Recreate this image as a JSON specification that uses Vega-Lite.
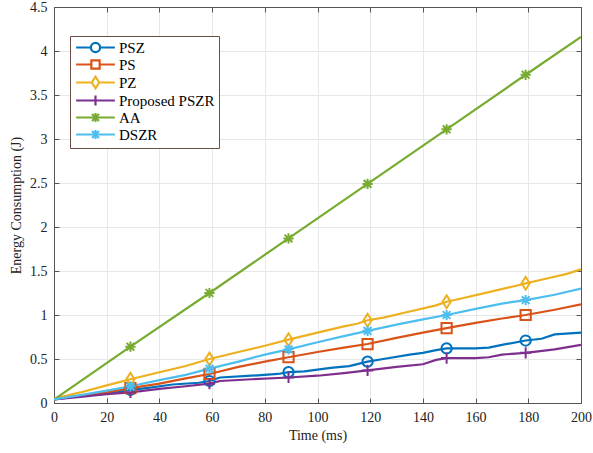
{
  "$schema": "https://vega.github.io/schema/vega-lite/v6.json",
  "width": 527,
  "height": 396,
  "autosize": {"type": "none"},
  "padding": {"left": 54, "top": 7, "right": 12, "bottom": 50},
  "config": {
    "view": {"stroke": null},
    "font": "Liberation Serif",
    "point": {"filled": false, "strokeWidth": 2, "size": 105, "opacity": 1},
    "axis": {
      "labelFont": "Liberation Serif",
      "titleFont": "Liberation Serif",
      "labelFontSize": 14,
      "titleFontSize": 14,
      "titleFontWeight": "normal",
      "labelColor": "#222",
      "titleColor": "#222",
      "domainColor": "#555",
      "tickColor": "#555",
      "gridColor": "#e6e8ea",
      "gridOpacity": 1
    }
  },
  "datasets": {
    "lines": [
      {"series": "PSZ", "t": 0, "e": 0.04}, {"series": "PSZ", "t": 10, "e": 0.08}, {"series": "PSZ", "t": 20, "e": 0.11}, {"series": "PSZ", "t": 29, "e": 0.15}, {"series": "PSZ", "t": 35, "e": 0.17}, {"series": "PSZ", "t": 45, "e": 0.21}, {"series": "PSZ", "t": 55, "e": 0.23}, {"series": "PSZ", "t": 59, "e": 0.25}, {"series": "PSZ", "t": 63, "e": 0.29}, {"series": "PSZ", "t": 75, "e": 0.31}, {"series": "PSZ", "t": 85, "e": 0.33}, {"series": "PSZ", "t": 89, "e": 0.35}, {"series": "PSZ", "t": 95, "e": 0.36}, {"series": "PSZ", "t": 105, "e": 0.4}, {"series": "PSZ", "t": 112, "e": 0.42}, {"series": "PSZ", "t": 119, "e": 0.47}, {"series": "PSZ", "t": 125, "e": 0.5}, {"series": "PSZ", "t": 135, "e": 0.55}, {"series": "PSZ", "t": 140, "e": 0.57}, {"series": "PSZ", "t": 145, "e": 0.6}, {"series": "PSZ", "t": 149, "e": 0.62}, {"series": "PSZ", "t": 160, "e": 0.62}, {"series": "PSZ", "t": 165, "e": 0.63}, {"series": "PSZ", "t": 170, "e": 0.66}, {"series": "PSZ", "t": 179, "e": 0.71}, {"series": "PSZ", "t": 185, "e": 0.73}, {"series": "PSZ", "t": 190, "e": 0.78}, {"series": "PSZ", "t": 200, "e": 0.8},
      {"series": "PS", "t": 0, "e": 0.04}, {"series": "PS", "t": 10, "e": 0.08}, {"series": "PS", "t": 20, "e": 0.12}, {"series": "PS", "t": 29, "e": 0.17}, {"series": "PS", "t": 40, "e": 0.22}, {"series": "PS", "t": 50, "e": 0.28}, {"series": "PS", "t": 59, "e": 0.33}, {"series": "PS", "t": 70, "e": 0.41}, {"series": "PS", "t": 80, "e": 0.47}, {"series": "PS", "t": 89, "e": 0.52}, {"series": "PS", "t": 100, "e": 0.58}, {"series": "PS", "t": 110, "e": 0.63}, {"series": "PS", "t": 119, "e": 0.67}, {"series": "PS", "t": 130, "e": 0.74}, {"series": "PS", "t": 140, "e": 0.8}, {"series": "PS", "t": 149, "e": 0.85}, {"series": "PS", "t": 160, "e": 0.91}, {"series": "PS", "t": 170, "e": 0.96}, {"series": "PS", "t": 179, "e": 1.0}, {"series": "PS", "t": 190, "e": 1.06}, {"series": "PS", "t": 200, "e": 1.12},
      {"series": "PZ", "t": 0, "e": 0.05}, {"series": "PZ", "t": 10, "e": 0.12}, {"series": "PZ", "t": 20, "e": 0.2}, {"series": "PZ", "t": 29, "e": 0.27}, {"series": "PZ", "t": 40, "e": 0.35}, {"series": "PZ", "t": 50, "e": 0.42}, {"series": "PZ", "t": 59, "e": 0.5}, {"series": "PZ", "t": 70, "e": 0.58}, {"series": "PZ", "t": 80, "e": 0.65}, {"series": "PZ", "t": 89, "e": 0.72}, {"series": "PZ", "t": 100, "e": 0.8}, {"series": "PZ", "t": 110, "e": 0.87}, {"series": "PZ", "t": 115, "e": 0.9}, {"series": "PZ", "t": 119, "e": 0.94}, {"series": "PZ", "t": 125, "e": 0.97}, {"series": "PZ", "t": 135, "e": 1.04}, {"series": "PZ", "t": 145, "e": 1.11}, {"series": "PZ", "t": 149, "e": 1.15}, {"series": "PZ", "t": 155, "e": 1.19}, {"series": "PZ", "t": 165, "e": 1.26}, {"series": "PZ", "t": 175, "e": 1.33}, {"series": "PZ", "t": 179, "e": 1.36}, {"series": "PZ", "t": 185, "e": 1.4}, {"series": "PZ", "t": 195, "e": 1.47}, {"series": "PZ", "t": 200, "e": 1.52},
      {"series": "Proposed PSZR", "t": 0, "e": 0.04}, {"series": "Proposed PSZR", "t": 10, "e": 0.07}, {"series": "Proposed PSZR", "t": 20, "e": 0.1}, {"series": "Proposed PSZR", "t": 29, "e": 0.12}, {"series": "Proposed PSZR", "t": 40, "e": 0.16}, {"series": "Proposed PSZR", "t": 50, "e": 0.19}, {"series": "Proposed PSZR", "t": 59, "e": 0.22}, {"series": "Proposed PSZR", "t": 63, "e": 0.25}, {"series": "Proposed PSZR", "t": 75, "e": 0.27}, {"series": "Proposed PSZR", "t": 89, "e": 0.29}, {"series": "Proposed PSZR", "t": 100, "e": 0.31}, {"series": "Proposed PSZR", "t": 110, "e": 0.34}, {"series": "Proposed PSZR", "t": 119, "e": 0.37}, {"series": "Proposed PSZR", "t": 130, "e": 0.41}, {"series": "Proposed PSZR", "t": 140, "e": 0.44}, {"series": "Proposed PSZR", "t": 145, "e": 0.49}, {"series": "Proposed PSZR", "t": 149, "e": 0.51}, {"series": "Proposed PSZR", "t": 160, "e": 0.51}, {"series": "Proposed PSZR", "t": 165, "e": 0.52}, {"series": "Proposed PSZR", "t": 170, "e": 0.55}, {"series": "Proposed PSZR", "t": 179, "e": 0.57}, {"series": "Proposed PSZR", "t": 190, "e": 0.61}, {"series": "Proposed PSZR", "t": 200, "e": 0.66},
      {"series": "AA", "t": 0, "e": 0.04}, {"series": "AA", "t": 29, "e": 0.64}, {"series": "AA", "t": 59, "e": 1.25}, {"series": "AA", "t": 89, "e": 1.87}, {"series": "AA", "t": 119, "e": 2.49}, {"series": "AA", "t": 149, "e": 3.11}, {"series": "AA", "t": 179, "e": 3.73}, {"series": "AA", "t": 200, "e": 4.16},
      {"series": "DSZR", "t": 0, "e": 0.04}, {"series": "DSZR", "t": 10, "e": 0.09}, {"series": "DSZR", "t": 20, "e": 0.14}, {"series": "DSZR", "t": 29, "e": 0.19}, {"series": "DSZR", "t": 40, "e": 0.26}, {"series": "DSZR", "t": 50, "e": 0.32}, {"series": "DSZR", "t": 59, "e": 0.39}, {"series": "DSZR", "t": 70, "e": 0.47}, {"series": "DSZR", "t": 80, "e": 0.55}, {"series": "DSZR", "t": 89, "e": 0.61}, {"series": "DSZR", "t": 100, "e": 0.69}, {"series": "DSZR", "t": 110, "e": 0.76}, {"series": "DSZR", "t": 119, "e": 0.82}, {"series": "DSZR", "t": 130, "e": 0.89}, {"series": "DSZR", "t": 140, "e": 0.95}, {"series": "DSZR", "t": 149, "e": 1.0}, {"series": "DSZR", "t": 160, "e": 1.07}, {"series": "DSZR", "t": 170, "e": 1.13}, {"series": "DSZR", "t": 179, "e": 1.17}, {"series": "DSZR", "t": 190, "e": 1.23}, {"series": "DSZR", "t": 200, "e": 1.3}
    ],
    "markers": [
      {"name": "PSZ", "t": 29, "e": 0.15}, {"name": "PSZ", "t": 59, "e": 0.25}, {"name": "PSZ", "t": 89, "e": 0.35}, {"name": "PSZ", "t": 119, "e": 0.47}, {"name": "PSZ", "t": 149, "e": 0.62}, {"name": "PSZ", "t": 179, "e": 0.71},
      {"name": "PS", "t": 29, "e": 0.17}, {"name": "PS", "t": 59, "e": 0.33}, {"name": "PS", "t": 89, "e": 0.52}, {"name": "PS", "t": 119, "e": 0.67}, {"name": "PS", "t": 149, "e": 0.85}, {"name": "PS", "t": 179, "e": 1.0},
      {"name": "PZ", "t": 29, "e": 0.27}, {"name": "PZ", "t": 59, "e": 0.5}, {"name": "PZ", "t": 89, "e": 0.72}, {"name": "PZ", "t": 119, "e": 0.94}, {"name": "PZ", "t": 149, "e": 1.15}, {"name": "PZ", "t": 179, "e": 1.36},
      {"name": "Proposed PSZR", "t": 29, "e": 0.12}, {"name": "Proposed PSZR", "t": 59, "e": 0.22}, {"name": "Proposed PSZR", "t": 89, "e": 0.29}, {"name": "Proposed PSZR", "t": 119, "e": 0.37}, {"name": "Proposed PSZR", "t": 149, "e": 0.51}, {"name": "Proposed PSZR", "t": 179, "e": 0.57},
      {"name": "AA", "t": 29, "e": 0.64}, {"name": "AA", "t": 59, "e": 1.25}, {"name": "AA", "t": 89, "e": 1.87}, {"name": "AA", "t": 119, "e": 2.49}, {"name": "AA", "t": 149, "e": 3.11}, {"name": "AA", "t": 179, "e": 3.73},
      {"name": "DSZR", "t": 29, "e": 0.19}, {"name": "DSZR", "t": 59, "e": 0.39}, {"name": "DSZR", "t": 89, "e": 0.61}, {"name": "DSZR", "t": 119, "e": 0.82}, {"name": "DSZR", "t": 149, "e": 1.0}, {"name": "DSZR", "t": 179, "e": 1.17}
    ]
  },
  "layer": [
    {
      "data": {"name": "lines"},
      "mark": {"type": "line", "strokeWidth": 2.2, "clip": true},
      "encoding": {
        "x": {"field": "t", "type": "quantitative", "scale": {"domain": [0, 200], "nice": false},
          "axis": {"title": "Time (ms)", "values": [0, 20, 40, 60, 80, 100, 120, 140, 160, 180, 200], "tickSize": -5, "labelPadding": 12, "titlePadding": 4, "grid": true, "domain": true, "labelFlush": false}},
        "y": {"field": "e", "type": "quantitative", "scale": {"domain": [0, 4.5], "nice": false},
          "axis": {"title": "Energy Consumption (J)", "values": [0, 0.5, 1, 1.5, 2, 2.5, 3, 3.5, 4, 4.5], "format": "~g", "tickSize": -5, "labelPadding": 12, "titlePadding": 6, "grid": true, "domain": true, "labelFlush": false}},
        "color": {"field": "series", "type": "nominal",
          "scale": {"domain": ["PSZ", "PS", "PZ", "Proposed PSZR", "AA", "DSZR"], "range": ["#0072BD", "#D95319", "#EDB120", "#7E2F8E", "#77AC30", "#4DBEEE"]},
          "legend": {
            "orient": "none", "legendX": 16, "legendY": 29, "title": null,
            "labelFont": "Liberation Serif", "labelFontSize": 15, "labelColor": "#000",
            "strokeColor": "#6b4c45", "fillColor": "#ffffff", "padding": 4,
            "rowPadding": -2, "symbolOffset": 14, "labelOffset": 16, "symbolSize": 85, "symbolStrokeWidth": 2.2,
            "encode": {"symbols": {"update": {
              "shape": {"signal": "datum.value === 'PSZ' ? 'M-4.2,0L-1,0M1,0L4.2,0M-1,0A1,1 0 1,0 1,0A1,1 0 1,0 -1,0' : datum.value === 'PS' ? 'M-4.2,0L-0.9,0M0.9,0L4.2,0M-0.9,-0.9L0.9,-0.9L0.9,0.9L-0.9,0.9Z' : datum.value === 'PZ' ? 'M-4.2,0L-0.8,0M0.8,0L4.2,0M0,-1.25L0.8,0L0,1.25L-0.8,0Z' : datum.value === 'Proposed PSZR' ? 'M-4.2,0L4.2,0M0,-1.1L0,1.1' : 'M-4.2,0L4.2,0M0,-1L0,1M-0.75,-0.75L0.75,0.75M-0.75,0.75L0.75,-0.75'"},
              "fill": {"value": "transparent"},
              "strokeWidth": {"value": 2.2}
            }}}
          }}
      }
    },
    {"data": {"name": "markers"}, "transform": [{"filter": "datum.name === 'PSZ'"}],
      "mark": {"type": "point", "shape": "circle", "color": "#0072BD"},
      "encoding": {"x": {"field": "t", "type": "quantitative", "axis": null}, "y": {"field": "e", "type": "quantitative", "axis": null}}},
    {"data": {"name": "markers"}, "transform": [{"filter": "datum.name === 'PS'"}],
      "mark": {"type": "point", "shape": "square", "color": "#D95319"},
      "encoding": {"x": {"field": "t", "type": "quantitative", "axis": null}, "y": {"field": "e", "type": "quantitative", "axis": null}}},
    {"data": {"name": "markers"}, "transform": [{"filter": "datum.name === 'PZ'"}],
      "mark": {"type": "point", "shape": "M0,-1.25L0.8,0L0,1.25L-0.8,0Z", "color": "#EDB120"},
      "encoding": {"x": {"field": "t", "type": "quantitative", "axis": null}, "y": {"field": "e", "type": "quantitative", "axis": null}}},
    {"data": {"name": "markers"}, "transform": [{"filter": "datum.name === 'Proposed PSZR'"}],
      "mark": {"type": "point", "shape": "M-1.1,0L1.1,0M0,-1.1L0,1.1", "color": "#7E2F8E"},
      "encoding": {"x": {"field": "t", "type": "quantitative", "axis": null}, "y": {"field": "e", "type": "quantitative", "axis": null}}},
    {"data": {"name": "markers"}, "transform": [{"filter": "datum.name === 'AA'"}],
      "mark": {"type": "point", "shape": "M-1,0L1,0M0,-1L0,1M-0.75,-0.75L0.75,0.75M-0.75,0.75L0.75,-0.75", "color": "#77AC30"},
      "encoding": {"x": {"field": "t", "type": "quantitative", "axis": null}, "y": {"field": "e", "type": "quantitative", "axis": null}}},
    {"data": {"name": "markers"}, "transform": [{"filter": "datum.name === 'DSZR'"}],
      "mark": {"type": "point", "shape": "M-1,0L1,0M0,-1L0,1M-0.75,-0.75L0.75,0.75M-0.75,0.75L0.75,-0.75", "color": "#4DBEEE"},
      "encoding": {"x": {"field": "t", "type": "quantitative", "axis": null}, "y": {"field": "e", "type": "quantitative", "axis": null}}},
    {
      "data": {"name": "markers"},
      "mark": {"type": "point", "opacity": 0},
      "encoding": {
        "x": {"field": "t", "type": "quantitative",
          "axis": {"orient": "top", "title": null, "labels": false, "grid": false, "tickSize": -5, "values": [0, 20, 40, 60, 80, 100, 120, 140, 160, 180, 200]}},
        "y": {"field": "e", "type": "quantitative",
          "axis": {"orient": "right", "title": null, "labels": false, "grid": false, "tickSize": -5, "values": [0, 0.5, 1, 1.5, 2, 2.5, 3, 3.5, 4, 4.5]}}
      }
    }
  ],
  "resolve": {"axis": {"x": "independent", "y": "independent"}}
}
